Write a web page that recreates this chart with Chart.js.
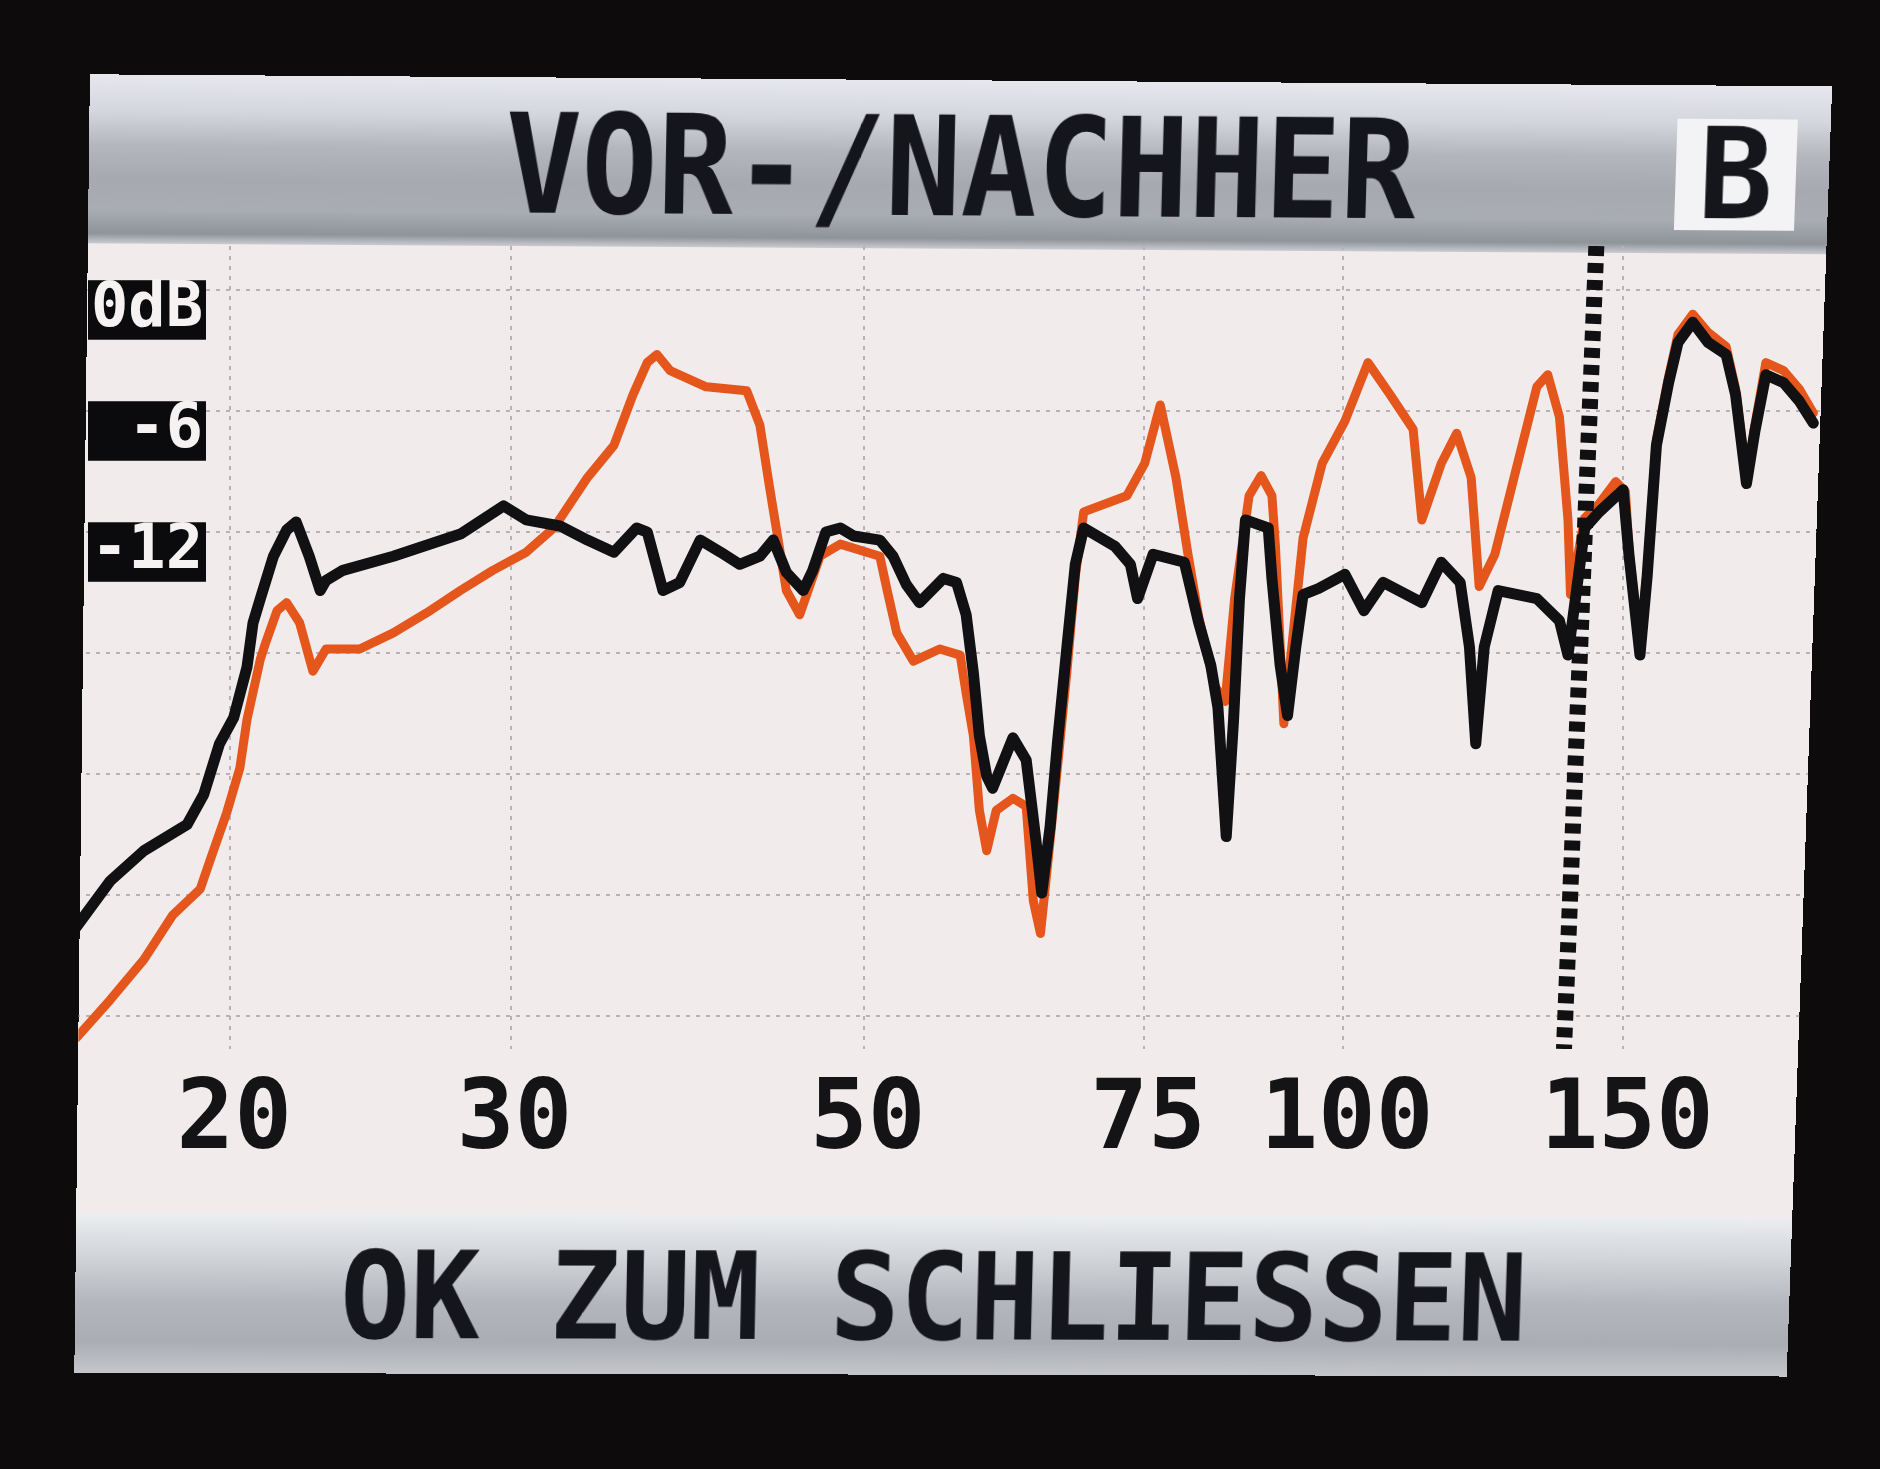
<!DOCTYPE html>
<html>
<head>
<meta charset="utf-8">
<title>VOR-/NACHHER</title>
<script src="https://cdn.jsdelivr.net/npm/chart.js@4.4.1/dist/chart.umd.min.js"></script>
<style>
html, body { margin: 0; padding: 0; width: 1880px; height: 1469px; background: #0d0b0b; overflow: hidden; }
#screen {
  position: absolute; left: 0; top: 0; width: 1727px; height: 1295px;
  background: #f2ebeb; overflow: hidden;
  transform-origin: 0 0;
}
#titlebar {
  position: absolute; left: 0; top: 0; width: 100%; height: 166px;
  background: linear-gradient(to bottom, #e6e8ee 0%, #d3d6dc 22%, #b3b6bd 42%, #a6a9b0 62%, #a9acb3 80%, #8f939a 94%, #c9cbd0 100%);
}
#title {
  position: absolute; left: 0; top: 18px; width: 100%; height: 136px;
  text-align: center;
  font: bold 136px/136px 'DejaVu Sans Mono', monospace; color: #15151c;
}
#title span { display: inline-block; transform: scaleX(0.92); }
#bbox {
  position: absolute; left: 1574px; top: 33px; width: 120px; height: 110px;
  background: #f3f3f5; text-align: center;
  font: bold 124px/110px 'DejaVu Sans Mono', monospace; color: #15151c;
}
#bottombar {
  position: absolute; left: 0; top: 1133px; width: 100%; height: 162px;
  background: linear-gradient(to bottom, #eceef1 0%, #d3d6da 25%, #b3b6bc 55%, #aaadb3 80%, #c4c6cb 100%);
}
#hint {
  position: absolute; left: 0; top: 22px; width: 100%; height: 123px;
  text-align: center;
  font: bold 123px/123px 'DejaVu Sans Mono', monospace; color: #15151c;
}
#hint span { display: inline-block; transform: scaleX(0.95); }
#chart { position: absolute; left: 76px; top: 246px; }
</style>
</head>
<body>
<div id="screen">
  <div id="titlebar">
    <div id="title"><span>VOR-/NACHHER</span></div>
    <div id="bbox">B</div>
  </div>
  <div id="bottombar">
    <div id="hint"><span>OK ZUM SCHLIESSEN</span></div>
  </div>
</div>
<canvas id="chart" width="1746" height="965"></canvas>
<script>

// axis ticks
const xTicks = [20, 30, 50, 75, 100, 150]
const yGrid = [0, -6, -12, -18, -24, -30, -36]
const yLabels = ["0dB", " -6", "-12", "", "", "", ""]

// after (black) curve, Hz / dB
const freqNachher = [16.0, 16.81, 17.65, 18.79, 19.25, 19.69, 20.10, 20.49, 20.67, 20.89,
  21.29, 21.70, 22.00, 22.42, 22.78, 22.97, 23.54, 25.32, 27.90, 29.70,
  30.69, 32.22, 33.53, 34.84, 36.00, 36.56, 37.40, 38.32, 39.47, 40.65,
  41.79, 43.03, 43.87, 44.71, 45.81, 46.45, 47.34, 48.34, 49.28, 51.18,
  52.17, 53.18, 54.20, 56.11, 57.19, 57.99, 58.60, 59.11, 59.74, 60.25,
  62.05, 63.25, 64.13, 64.69, 65.48, 66.17, 67.09, 67.91, 68.74, 71.90,
  73.54, 74.31, 76.00, 79.51, 81.18, 82.61, 83.47, 84.48, 85.38, 86.11,
  86.86, 89.77, 90.25, 91.33, 92.31, 93.42, 94.41, 96.55, 100.3, 103.1,
  106.0, 112.1, 115.3, 118.5, 120.1, 121.2, 122.7, 125.2, 132.4, 136.8,
  138.5, 141.9, 144.9, 150.0, 151.3, 153.7, 155.3, 157.4, 160.2, 162.4,
  165.9, 169.6, 174.1, 176.5, 179.3, 181.5, 184.4, 189.2, 193.5, 197.5]
const dbNachher = [-31.6, -29.3, -27.8, -26.5, -25.0, -22.5, -21.2, -18.7, -16.5, -15.3,
  -13.2, -11.9, -11.5, -13.2, -14.9, -14.4, -13.9, -13.2, -12.1, -10.7,
  -11.4, -11.7, -12.4, -13.0, -11.8, -12.0, -14.9, -14.5, -12.4, -13.0,
  -13.6, -13.2, -12.4, -14.0, -14.9, -13.9, -12.0, -11.8, -12.2, -12.4,
  -13.2, -14.6, -15.5, -14.3, -14.5, -16.1, -19.0, -22.1, -24.1, -24.7,
  -22.2, -23.3, -27.2, -29.9, -26.6, -22.5, -17.7, -13.6, -11.8, -12.7,
  -13.6, -15.3, -13.1, -13.5, -16.5, -18.6, -20.7, -27.1, -21.3, -15.3,
  -11.4, -11.8, -14.3, -18.6, -21.1, -17.7, -15.1, -14.8, -14.1, -15.9,
  -14.5, -15.5, -13.5, -14.5, -17.7, -22.5, -17.7, -14.9, -15.3, -16.4,
  -18.1, -11.8, -11.0, -9.9, -13.2, -18.1, -14.2, -7.7, -4.6, -2.6,
  -1.6, -2.6, -3.2, -5.2, -9.6, -7.0, -4.2, -4.6, -5.5, -6.6]

// before (orange) curve, Hz / dB
const freqVorher = [16.0, 16.81, 17.65, 18.40, 19.15, 19.42, 19.90, 20.28, 20.49, 20.89,
  21.07, 21.40, 21.70, 22.11, 22.54, 22.97, 24.12, 25.32, 26.58, 27.90,
  29.24, 30.69, 31.94, 33.53, 34.84, 35.81, 36.56, 37.08, 37.79, 39.81,
  42.22, 43.03, 43.64, 44.10, 44.71, 45.58, 46.94, 48.34, 51.18, 51.73,
  52.45, 53.73, 55.82, 57.49, 57.99, 58.60, 59.11, 59.74, 60.57, 62.05,
  63.25, 63.91, 64.57, 65.26, 66.17, 67.09, 67.91, 68.74, 73.17, 75.08,
  76.79, 78.55, 79.93, 81.18, 83.03, 84.34, 85.51, 87.32, 88.85, 90.25,
  90.71, 91.82, 94.41, 97.06, 100.3, 103.7, 107.1, 110.7, 112.1, 115.3,
  117.9, 120.4, 121.8, 124.6, 128.1, 132.4, 134.5, 136.8, 138.5, 139.0,
  141.9, 144.9, 148.4, 150.5, 151.3, 153.7, 155.3, 157.4, 160.2, 162.4,
  165.9, 169.6, 174.1, 176.5, 179.3, 181.5, 184.4, 189.2, 193.5, 197.5]
const dbVorher = [-37.1, -35.2, -33.2, -31.0, -29.7, -28.3, -25.9, -23.7, -21.3, -18.3,
  -17.4, -15.9, -15.5, -16.5, -18.9, -17.8, -17.8, -17.0, -16.0, -14.9,
  -13.9, -13.0, -11.8, -9.3, -7.7, -5.2, -3.6, -3.2, -4.0, -4.8,
  -5.0, -6.7, -9.8, -12.0, -14.9, -16.1, -13.2, -12.6, -13.2, -14.9,
  -17.0, -18.4, -17.8, -18.1, -20.0, -22.1, -25.8, -27.8, -25.8, -25.2,
  -25.6, -30.3, -31.9, -28.4, -23.7, -18.9, -14.2, -11.0, -10.2, -8.6,
  -5.7, -9.3, -13.1, -16.2, -19.6, -20.4, -15.3, -10.2, -9.2, -10.2,
  -12.7, -21.5, -12.3, -8.6, -6.5, -3.6, -5.2, -6.9, -11.4, -8.6,
  -7.1, -9.3, -14.7, -13.1, -9.3, -4.8, -4.2, -6.3, -11.4, -15.1,
  -11.3, -10.6, -9.5, -10.0, -12.9, -17.8, -13.9, -7.4, -4.3, -2.2,
  -1.2, -2.1, -2.8, -4.9, -9.3, -6.7, -3.6, -4.0, -4.9, -6.1]

// dashed cursor (leans a little, like everything on the photographed screen)
const cursorFreq = [144.3, 137.7]
const cursorDb = [2.18, -37.63]

// corners of the screen in the photo: TL, TR, BR, BL
const screenCorners = [[89.9, 74.3], [1832, 86.3], [1786.5, 1376.4], [74.3, 1372.8]]

// map the flat 1727x1295 screen (title and bottom bars) onto those corners
function fitScreen(el, W, H, q){
  const [x0, y0] = q[0], [x1, y1] = q[1], [x2, y2] = q[2], [x3, y3] = q[3]
  const dx1 = x1 - x2, dx2 = x3 - x2, sx = x0 - x1 + x2 - x3
  const dy1 = y1 - y2, dy2 = y3 - y2, sy = y0 - y1 + y2 - y3
  const det = dx1 * dy2 - dx2 * dy1
  const g = (sx * dy2 - dx2 * sy) / det
  const h = (dx1 * sy - sx * dy1) / det
  const a = x1 - x0 + g * x1, b = x3 - x0 + h * x3, c = x0
  const d = y1 - y0 + g * y1, e = y3 - y0 + h * y3, f = y0
  el.style.transform = "matrix3d(" + [a / W, d / W, 0, g / W, b / H, e / H, 0, h / H, 0, 0, 1, 0, c, f, 0, 1].join(",") + ")"
}
fitScreen(document.getElementById("screen"), 1727, 1295, screenCorners)

// keep the plot inside the screen outline
const canvas = document.getElementById("chart")
canvas.style.clipPath = "polygon(" + screenCorners.map(p => (p[0] - 76) + "px " + (p[1] - 246) + "px").join(",") + ")"

function toPoints(xs, ys){
  return xs.map((x, i) => ({x: x, y: ys[i]}))
}

const gridColor = "#b7b1ba"
const lcdFont = "'DejaVu Sans Mono', monospace"

const ctx = canvas.getContext("2d")

new Chart(ctx, {
  type: "line",
  data: {
    datasets: [
      {
        label: "Cursor",
        data: toPoints(cursorFreq, cursorDb),
        borderColor: "#101012",
        borderWidth: 16,
        borderDash: [10, 7],
        pointRadius: 0
      },
      {
        label: "Nachher",
        data: toPoints(freqNachher, dbNachher),
        borderColor: "#111113",
        borderWidth: 11,
        borderJoinStyle: "round",
        borderCapStyle: "round",
        tension: 0,
        pointRadius: 0
      },
      {
        label: "Vorher",
        data: toPoints(freqVorher, dbVorher),
        borderColor: "#e4561c",
        borderWidth: 9,
        borderJoinStyle: "round",
        borderCapStyle: "round",
        tension: 0,
        pointRadius: 0
      }
    ]
  },
  options: {
    responsive: false,
    animation: false,
    layout: { padding: 0 },
    plugins: {
      legend: { display: false },
      tooltip: { enabled: false }
    },
    scales: {
      x: {
        type: "logarithmic",
        min: 16,
        max: 200,
        afterBuildTicks: s => { s.ticks = xTicks.map(v => ({value: v})) },
        afterFit: s => { s.height = 162; s.paddingLeft = 0; s.paddingRight = 0 },
        grid: { color: gridColor, lineWidth: 2, drawTicks: false },
        border: { display: false, dash: [4, 6] },
        ticks: {
          autoSkip: false,
          maxRotation: 0,
          padding: 26,
          labelOffset: 4,
          color: "#141416",
          font: { family: lcdFont, weight: "bold", size: 96, lineHeight: 1 },
          callback: v => String(v)
        }
      },
      y: {
        min: -37.63,
        max: 2.18,
        position: "left",
        afterBuildTicks: s => { s.ticks = yGrid.map(v => ({value: v})) },
        afterFit: s => { s.width = 0; s.paddingTop = 0; s.paddingBottom = 0 },
        grid: { color: gridColor, lineWidth: 2, drawTicks: false },
        border: { display: false, dash: [4, 6] },
        ticks: {
          autoSkip: false,
          mirror: true,
          padding: 15,
          labelOffset: 20,
          color: "#f6f2f2",
          font: { family: lcdFont, weight: "bold", size: 62, lineHeight: 0.96 },
          callback: v => yLabels[yGrid.indexOf(v)] || "",
          showLabelBackdrop: true,
          backdropColor: c => yLabels[yGrid.indexOf(c.tick.value)] ? "#0b0b0d" : "rgba(0,0,0,0)",
          backdropPadding: { left: 3, right: 3, top: 0, bottom: 0 }
        }
      }
    }
  }
})
</script>
</body>
</html>
